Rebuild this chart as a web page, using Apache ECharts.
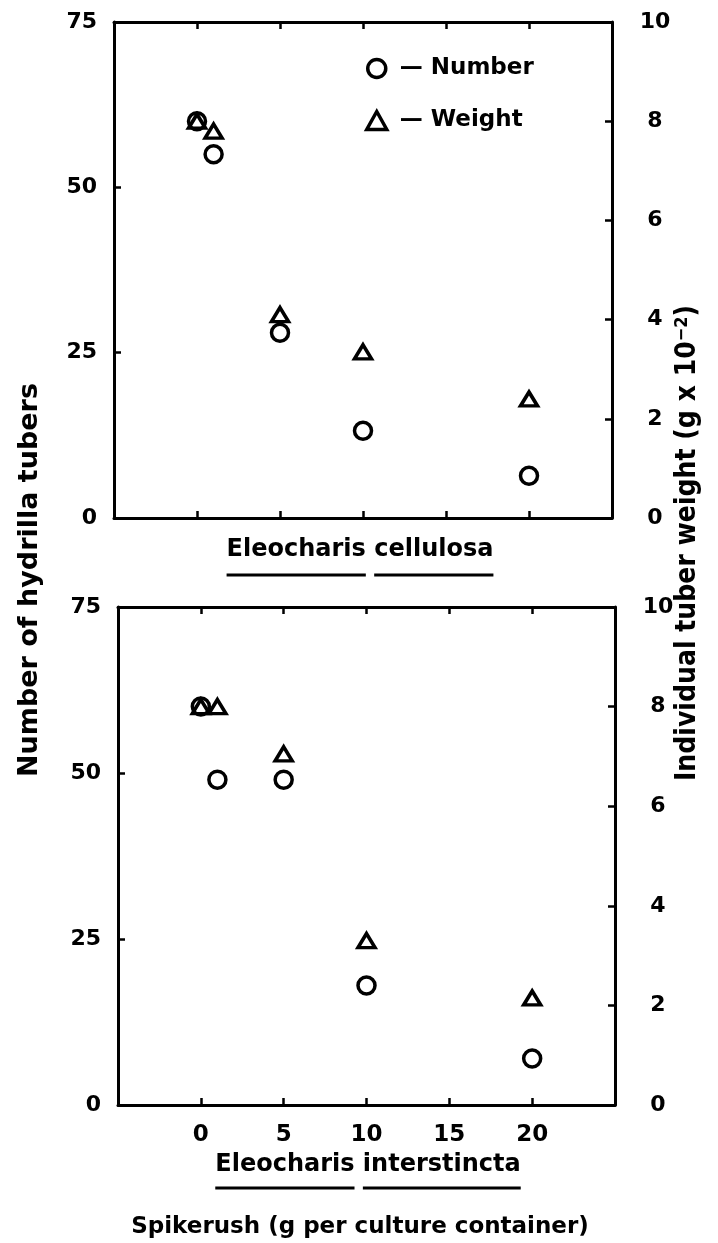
<!DOCTYPE html>
<html><head><meta charset="utf-8">
<script src="https://cdn.jsdelivr.net/npm/echarts@6/dist/echarts.min.js"></script>
<style>html,body{margin:0;padding:0;background:#fff}#c{width:718px;height:1243px}</style>
</head><body><div id="c"></div>
<script>
// ---- data ----
const doses = [0, 1, 5, 10, 20];
const cellulosaNumber = [60, 55, 28, 13.2, 6.4];
const cellulosaWeight = [8.0, 7.8, 4.1, 3.35, 2.4];
const interstinctaNumber = [60, 49, 49, 18, 7];
const interstinctaWeight = [8.0, 8.0, 7.05, 3.3, 2.15];
const xTickLabels = [0, 5, 10, 15, 20];
const numberTickLabels = [0, 25, 50, 75];
const weightTickLabels = [0, 2, 4, 6, 8, 10];
const subtitleTop = ['Eleocharis', 'cellulosa'];
const subtitleBottom = ['Eleocharis', 'interstincta'];
const xTitle = 'Spikerush (g per culture container)';
const yLeftTitle = 'Number of hydrilla tubers';
const yRightTitle = 'Individual tuber weight (g x 10';
const seriesNames = ['Number', 'Weight'];

const FONT = '"DejaVu Sans", Roboto, sans-serif';
const NARROW = '"Liberation Sans Narrow", "DejaVu Sans Condensed", sans-serif';
const FS = 22;
const black = '#000';

const chart = echarts.init(document.getElementById('c'), null, {renderer: 'canvas'});

function pairs(xs, ys) { return xs.map((x, i) => [x, ys[i]]); }

const grids = [
  {left: 114, top: 22, width: 498, height: 496},
  {left: 118, top: 607, width: 497, height: 498}
];

function xAx(gi, pos, labels) {
  return {
    type: 'value', gridIndex: gi, position: pos, min: -5, max: 25, interval: 5,
    axisLine: {show: true, onZero: false, lineStyle: {color: black, width: 3}},
    axisTick: {show: true, inside: true, length: 7, lineStyle: {color: black, width: 2.5}},
    splitLine: {show: false},
    axisLabel: {show: labels, margin: 19, color: black, fontFamily: FONT, fontWeight: 'bold', fontSize: 23,
      formatter: v => xTickLabels.indexOf(v) >= 0 ? String(v) : ''}
  };
}
function yAx(gi, pos, max, interval, ticks) {
  const left = pos === 'left';
  return {
    type: 'value', gridIndex: gi, position: pos, min: 0, max: max, interval: interval,
    axisLine: {show: true, onZero: false, lineStyle: {color: black, width: 3}},
    axisTick: {show: true, inside: true, length: 7, lineStyle: {color: black, width: 2.5}},
    splitLine: {show: false},
    axisLabel: {show: true, margin: left ? 17 : 43, align: left ? 'right' : 'center',
      color: black, fontFamily: FONT, fontWeight: 'bold', fontSize: FS,
      formatter: v => ticks.indexOf(v) >= 0 ? String(v) : ''}
  };
}

const markStyle = {color: 'rgba(255,255,255,0)', borderColor: black, borderWidth: 3.5, opacity: 1};
function numSeries(xi, yi, data) {
  return {name: seriesNames[0], type: 'scatter', xAxisIndex: xi, yAxisIndex: yi, data: data,
    symbol: 'circle', symbolSize: 17, itemStyle: markStyle, z: 3};
}
function wtSeries(xi, yi, data) {
  return {name: seriesNames[1], type: 'scatter', xAxisIndex: xi, yAxisIndex: yi, data: data,
    symbol: 'triangle', symbolSize: [17, 14], itemStyle: markStyle, z: 4};
}

// text measuring for underline decorations
const mctx = document.createElement('canvas').getContext('2d');
function tw(t, font) { mctx.font = font; return mctx.measureText(t).width; }
const subFont = 'bold 24px ' + FONT;
function subtitle(words, cx, cy, uy) {
  const full = words.join(' ');
  const W = tw(full, subFont);
  const x0 = cx - W / 2;
  const w1 = tw(words[0], subFont);
  const wsp = tw(words[0] + ' ', subFont);
  return [
    {type: 'text', x: cx, y: cy, style: {text: full, font: subFont, fill: black, align: 'center', verticalAlign: 'middle'}},
    {type: 'line', shape: {x1: x0, y1: uy, x2: x0 + w1, y2: uy}, style: {stroke: black, lineWidth: 3}},
    {type: 'line', shape: {x1: x0 + wsp, y1: uy, x2: x0 + W, y2: uy}, style: {stroke: black, lineWidth: 3}}
  ];
}

const graphics = [].concat(
  subtitle(subtitleTop, 360, 550, 575),
  subtitle(subtitleBottom, 368, 1165, 1188),
  [
    {type: 'text', x: 360, y: 1227, style: {text: xTitle, font: 'bold 23px ' + FONT, fill: black, align: 'center', verticalAlign: 'middle'}},
    {type: 'text', x: 30, y: 580, rotation: Math.PI / 2,
      style: {text: yLeftTitle, font: 'bold 27px ' + FONT, fill: black, align: 'center', verticalAlign: 'middle'}},
    {type: 'text', x: 688, y: 543, rotation: Math.PI / 2,
      style: {text: yRightTitle + '{sup|−2}' + ')', fill: black, align: 'center', verticalAlign: 'middle',
        font: 'bold 28px ' + NARROW,
        rich: {sup: {fontSize: 18, fontWeight: 'bold', fontFamily: NARROW, verticalAlign: 'top', padding: [0, 0, 12, 0]}}}}
  ]
);

chart.setOption({
  animation: false,
  backgroundColor: '#fff',
  grid: grids,
  legend: {
    orient: 'vertical', left: 360, top: 52, itemGap: 29, itemWidth: 20, itemHeight: 18,
    data: [{name: 'Number', icon: 'circle'}, {name: 'Weight', icon: 'triangle'}],
    itemStyle: {color: 'rgba(255,255,255,0)', borderColor: black, borderWidth: 3.5, opacity: 1},
    formatter: n => ' \u2014 ' + n,
    textStyle: {color: black, fontFamily: FONT, fontWeight: 'bold', fontSize: 23}
  },
  xAxis: [xAx(0, 'bottom', false), xAx(0, 'top', false), xAx(1, 'bottom', true), xAx(1, 'top', false)],
  yAxis: [yAx(0, 'left', 75, 25, numberTickLabels), yAx(0, 'right', 10, 2, weightTickLabels),
          yAx(1, 'left', 75, 25, numberTickLabels), yAx(1, 'right', 10, 2, weightTickLabels)],
  series: [
    numSeries(0, 0, pairs(doses, cellulosaNumber)),
    wtSeries(0, 1, pairs(doses, cellulosaWeight)),
    numSeries(2, 2, pairs(doses, interstinctaNumber)),
    wtSeries(2, 3, pairs(doses, interstinctaWeight))
  ],
  graphic: graphics
});
</script></body></html>
